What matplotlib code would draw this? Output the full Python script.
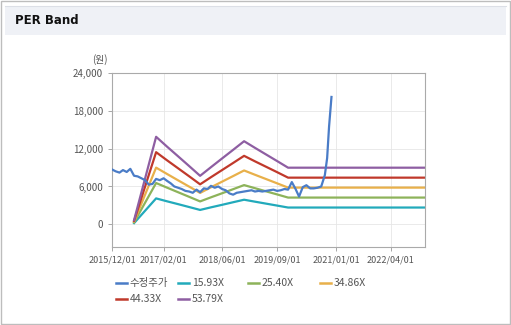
import matplotlib.pyplot as plt
import matplotlib.dates as mdates
from matplotlib.lines import Line2D
from matplotlib.patches import Rectangle
import pandas as pd

plt.rcParams['font.family'] = ['Noto Sans CJK KR', 'DejaVu Sans']

# 수정주가 (adjusted price)
price_dates = ['2015-12-01', '2016-01-01', '2016-02-01', '2016-03-01', '2016-04-01', '2016-05-01',
               '2016-06-01', '2016-07-01', '2016-08-01', '2016-09-01', '2016-10-01', '2016-11-01',
               '2016-12-01', '2017-01-01', '2017-02-01', '2017-03-01', '2017-04-01', '2017-05-01',
               '2017-06-01', '2017-07-01', '2017-08-01', '2017-09-01', '2017-10-01', '2017-11-01',
               '2017-12-01', '2018-01-01', '2018-02-01', '2018-03-01', '2018-04-01', '2018-05-01',
               '2018-06-01', '2018-07-01', '2018-08-01', '2018-09-01', '2018-10-01', '2018-11-01',
               '2018-12-01', '2019-01-01', '2019-02-01', '2019-03-01', '2019-04-01', '2019-05-01',
               '2019-06-01', '2019-07-01', '2019-08-01', '2019-09-01', '2019-10-01', '2019-11-01',
               '2019-12-01', '2020-01-01', '2020-02-01', '2020-03-01', '2020-04-01', '2020-05-01',
               '2020-06-01', '2020-07-01', '2020-08-01', '2020-09-01', '2020-10-01', '2020-10-20',
               '2020-11-05', '2020-11-25']
price = [8700, 8400, 8200, 8600, 8300, 8800,
         7700, 7600, 7300, 7000, 6300, 6400,
         7200, 7000, 7300, 6900, 6500, 6000,
         5800, 5600, 5300, 5200, 5000, 5500,
         5100, 5700, 5600, 6100, 5800, 6000,
         5600, 5400, 4900, 4700, 5000, 5100,
         5200, 5300, 5400, 5200, 5300, 5200,
         5300, 5400, 5500, 5300, 5400, 5600,
         5500, 6700, 5600, 4400, 5900, 6200,
         5700, 5700, 5800, 6000, 7800, 10500,
         15500, 20200]

# PER band lines
band_dates = ['2016-06-01', '2016-12-01', '2017-03-01', '2017-06-01', '2017-09-01', '2017-12-01',
              '2018-03-01', '2018-06-01', '2018-09-01', '2018-12-01', '2019-03-01', '2019-06-01',
              '2019-09-01', '2019-12-01', '2023-01-01']
per_1593 = [190, 4110, 3650, 3200, 2740, 2280, 2690, 3090, 3500, 3900, 3590, 3280, 2970, 2660, 2660]
per_2540 = [300, 6550, 5820, 5090, 4360, 3630, 4280, 4920, 5570, 6220, 5730, 5230, 4740, 4240, 4240]
per_3486 = [420, 8990, 7990, 6980, 5980, 4980, 5870, 6760, 7650, 8540, 7860, 7180, 6500, 5820, 5820]
per_4433 = [530, 11440, 10160, 8890, 7620, 6340, 7470, 8600, 9730, 10860, 9990, 9130, 8270, 7400, 7400]
per_5379 = [650, 13880, 12330, 10790, 9240, 7690, 9060, 10440, 11810, 13180, 12130, 11080, 10030, 8980, 8980]

labels = ['수정주가', '15.93X', '25.40X', '34.86X', '44.33X', '53.79X']
colors = ['#4a7cc7', '#22aabb', '#8db35a', '#e8b04a', '#c0392b', '#8e5ea2']
tick_dates = ['2015-12-01', '2017-02-01', '2018-06-01', '2019-09-01', '2021-01-01', '2022-04-01']
y_ticks = [0, 6000, 12000, 18000, 24000]

fig = plt.figure(figsize=(5.11, 3.25), dpi=100)

# outer frame and header
fig.add_artist(Rectangle((0.002, 0.003), 0.996, 0.994, transform=fig.transFigure,
                         fill=False, edgecolor='#bdbdbd', lw=1))
fig.add_artist(Rectangle((5 / 511, 1 - 35 / 325), 501 / 511, 29 / 325, transform=fig.transFigure,
                         facecolor='#eff1f6', edgecolor='none'))
fig.add_artist(Line2D([5 / 511, 506 / 511], [1 - 6 / 325, 1 - 6 / 325], transform=fig.transFigure,
                      color='#dcdfe6', lw=0.8))
fig.text(15 / 511, 1 - 21 / 325, 'PER Band', fontsize=8.5, fontweight='bold', va='center',
         color='#111111', family=['DejaVu Sans'])

ax = fig.add_axes([112 / 511, 1 - 247 / 325, 313 / 511, 174 / 325])

pdates = pd.to_datetime(price_dates)
bdates = pd.to_datetime(band_dates)
ax.plot(pdates, price, color=colors[0], lw=1.6, zorder=5)
for vals, c in zip([per_1593, per_2540, per_3486, per_4433, per_5379], colors[1:]):
    ax.plot(bdates, vals, color=c, lw=1.6)

ax.set_xlim(pd.Timestamp('2015-12-01'), pd.Timestamp('2023-01-10'))
ax.set_ylim(-3600, 24000)
ax.set_yticks(y_ticks)
ax.set_yticklabels([f'{v:,}' for v in y_ticks])
ax.set_xticks(pd.to_datetime(tick_dates))
ax.xaxis.set_major_formatter(mdates.DateFormatter('%Y/%m/%d'))
ax.tick_params(axis='both', labelsize=6.5, colors='#999999', labelcolor='#555555',
               length=3, width=0.6)
ax.tick_params(axis='y', labelsize=7)
ax.tick_params(axis='x', pad=3)
ax.grid(True, color='#e6e6e6', lw=0.6)
ax.set_axisbelow(True)
for s in ax.spines.values():
    s.set_color('#aaaaaa')
    s.set_linewidth(0.8)
fig.text(100 / 511, 1 - 60 / 325, '(원)', fontsize=7, color='#555555', ha='center', va='center')

# legend, row-major
pos = [(116, 283), (178, 283), (248, 283), (320, 283), (116, 299), (178, 299)]
for (px, py), lab, c in zip(pos, labels, colors):
    fig.add_artist(Line2D([px / 511, (px + 11) / 511], [1 - py / 325, 1 - py / 325],
                          transform=fig.transFigure, color=c, lw=1.8))
    fig.text((px + 14) / 511, 1 - py / 325, lab, fontsize=7.5, color='#555555', va='center')

fig.savefig('out.png', dpi=100)
